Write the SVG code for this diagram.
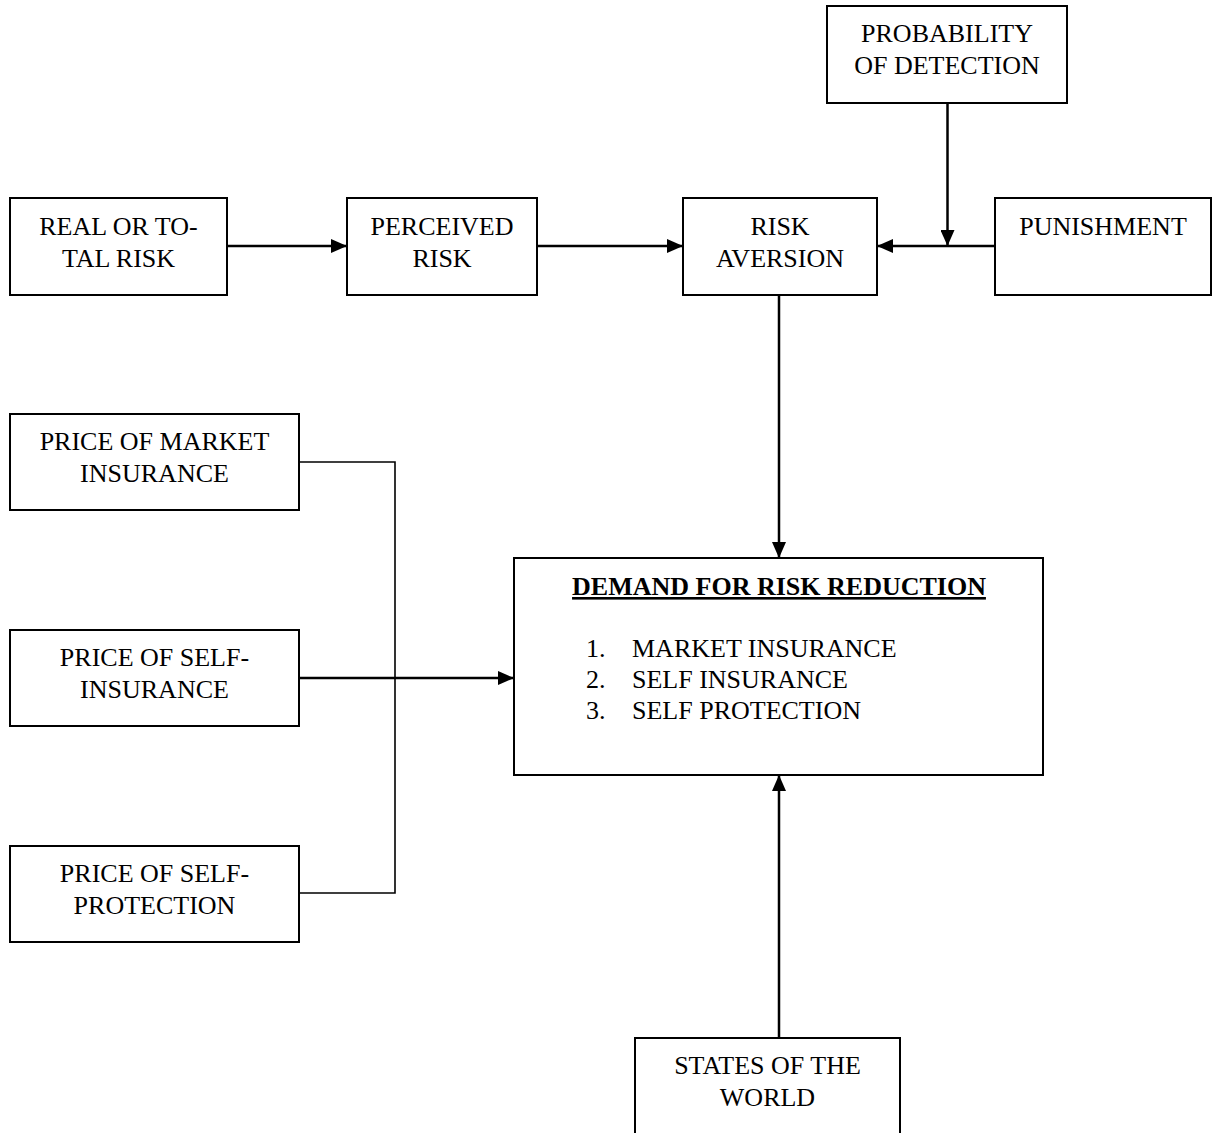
<svg xmlns="http://www.w3.org/2000/svg" width="1213" height="1133" viewBox="0 0 1213 1133">
  <style>
    .box { fill: #ffffff; stroke: #000000; stroke-width: 2; }
    .lbl { font-family: "Liberation Serif", "Times New Roman", serif; font-size: 26px; fill: #000000; text-anchor: middle; }
    .item { font-family: "Liberation Serif", "Times New Roman", serif; font-size: 26px; fill: #000000; }
    .title { font-family: "Liberation Serif", "Times New Roman", serif; font-size: 26px; font-weight: bold; fill: #000000; text-anchor: middle; text-decoration: underline; }
    .arrow { fill: none; stroke: #000000; stroke-width: 2.5; marker-end: url(#head); }
    .wire { fill: none; stroke: #000000; stroke-width: 2.5; }
    .thin { fill: none; stroke: #000000; stroke-width: 1.6; }
  </style>
  <defs>
    <marker id="head" markerUnits="userSpaceOnUse" markerWidth="16" markerHeight="14" refX="16" refY="7" orient="auto">
      <path d="M0,0 L16,7 L0,14 Z" fill="#000000"/>
    </marker>
  </defs>

  <rect width="1213" height="1133" fill="#ffffff"/>

  <!-- connectors -->
  <g id="connectors">
    <line class="arrow" x1="227" y1="246" x2="347" y2="246"/>
    <line class="arrow" x1="537" y1="246" x2="683" y2="246"/>
    <line class="arrow" x1="995" y1="246" x2="877" y2="246"/>
    <line class="arrow" x1="947.5" y1="103" x2="947.5" y2="246"/>
    <line class="arrow" x1="779" y1="295" x2="779" y2="558"/>
    <line class="arrow" x1="779" y1="1038" x2="779" y2="775"/>
    <polyline class="thin" points="299,462 395,462 395,893 299,893"/>
    <line class="arrow" x1="299" y1="678" x2="514" y2="678"/>
  </g>

  <!-- nodes -->
  <g id="real-risk">
    <rect class="box" x="10" y="198" width="217" height="97"/>
    <text class="lbl" x="118.5" y="235">REAL OR TO-</text>
    <text class="lbl" x="118.5" y="267">TAL RISK</text>
  </g>

  <g id="perceived-risk">
    <rect class="box" x="347" y="198" width="190" height="97"/>
    <text class="lbl" x="442" y="235">PERCEIVED</text>
    <text class="lbl" x="442" y="267">RISK</text>
  </g>

  <g id="risk-aversion">
    <rect class="box" x="683" y="198" width="194" height="97"/>
    <text class="lbl" x="780" y="235">RISK</text>
    <text class="lbl" x="780" y="267">AVERSION</text>
  </g>

  <g id="punishment">
    <rect class="box" x="995" y="198" width="216" height="97"/>
    <text class="lbl" x="1103" y="235">PUNISHMENT</text>
  </g>

  <g id="probability-detection">
    <rect class="box" x="827" y="6" width="240" height="97"/>
    <text class="lbl" x="947" y="42">PROBABILITY</text>
    <text class="lbl" x="947" y="74">OF DETECTION</text>
  </g>

  <g id="price-market-insurance">
    <rect class="box" x="10" y="414" width="289" height="96"/>
    <text class="lbl" x="154.5" y="450">PRICE OF MARKET</text>
    <text class="lbl" x="154.5" y="482">INSURANCE</text>
  </g>

  <g id="price-self-insurance">
    <rect class="box" x="10" y="630" width="289" height="96"/>
    <text class="lbl" x="154.5" y="666">PRICE OF SELF-</text>
    <text class="lbl" x="154.5" y="698">INSURANCE</text>
  </g>

  <g id="price-self-protection">
    <rect class="box" x="10" y="846" width="289" height="96"/>
    <text class="lbl" x="154.5" y="882">PRICE OF SELF-</text>
    <text class="lbl" x="154.5" y="914">PROTECTION</text>
  </g>

  <g id="demand">
    <rect class="box" x="514" y="558" width="529" height="217"/>
    <text class="title" x="779" y="595">DEMAND FOR RISK REDUCTION</text>
    <text class="item" x="586" y="657">1.</text>
    <text class="item" x="632" y="657">MARKET INSURANCE</text>
    <text class="item" x="586" y="688">2.</text>
    <text class="item" x="632" y="688">SELF INSURANCE</text>
    <text class="item" x="586" y="719">3.</text>
    <text class="item" x="632" y="719">SELF PROTECTION</text>
  </g>

  <g id="states-of-world">
    <rect class="box" x="635" y="1038" width="265" height="110"/>
    <text class="lbl" x="767.5" y="1074">STATES OF THE</text>
    <text class="lbl" x="767.5" y="1106">WORLD</text>
  </g>
</svg>
